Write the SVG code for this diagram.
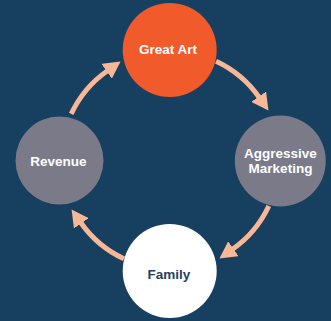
<svg xmlns="http://www.w3.org/2000/svg" width="331" height="321" viewBox="0 0 331 321">
<style>
.lbl{font-family:"Liberation Sans",Arial,sans-serif;font-weight:bold;font-size:13.5px;text-anchor:middle}
.w{fill:#ffffff}
.d{fill:#1f4264}
.arc{fill:none;stroke:#F8B797;stroke-width:5}
</style>
<defs>
<marker id="ah" markerUnits="userSpaceOnUse" viewBox="0 0 17 18" refX="1" refY="9" markerWidth="17" markerHeight="18" orient="auto">
<path d="M0,0 L17,9 L0,18 z" fill="#F8B797"/>
</marker>
</defs>
<rect x="0" y="0" width="331" height="321" fill="#173F5F"/>
<g id="connectors">
<path class="arc" d="M216.07,61.21 A109,109 0 0 1 259.29,97.48" marker-end="url(#ah)"/>
<path class="arc" d="M268.79,206.06 A109,109 0 0 1 232.52,249.29" marker-end="url(#ah)"/>
<path class="arc" d="M123.93,258.79 A109,109 0 0 1 80.71,222.52" marker-end="url(#ah)"/>
<path class="arc" d="M71.21,113.93 A109,109 0 0 1 107.48,70.71" marker-end="url(#ah)"/>
</g>
<g id="great-art">
<circle cx="169.7" cy="50" r="47" fill="#F15A2B"/>
<text class="lbl w" x="168" y="54">Great Art</text>
</g>
<g id="aggressive-marketing">
<circle cx="280.3" cy="161" r="45.5" fill="#7A7A88"/>
<text class="lbl w" x="280.5" y="158">Aggressive</text>
<text class="lbl w" x="280.5" y="173">Marketing</text>
</g>
<g id="family">
<circle cx="169.7" cy="271" r="47" fill="#ffffff"/>
<text class="lbl d" x="169" y="279">Family</text>
</g>
<g id="revenue">
<circle cx="59.5" cy="160.5" r="44" fill="#7A7A88"/>
<text class="lbl w" x="58.4" y="166">Revenue</text>
</g>
</svg>
